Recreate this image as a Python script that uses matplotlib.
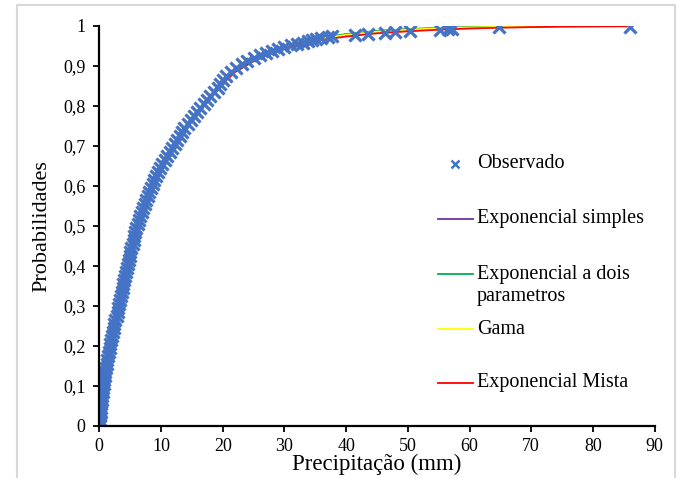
import matplotlib.pyplot as plt
from matplotlib.patches import Rectangle
from matplotlib.lines import Line2D

plt.rcParams['font.family'] = ['Liberation Serif', 'DejaVu Serif']

obs_precip = [0.05, 0.1, 0.15, 0.2, 0.28, 0.33, 0.4, 0.45, 0.55, 0.6,
              0.7, 0.78, 0.9, 1.0, 1.1, 1.2, 1.3, 1.45, 1.55, 1.7,
              1.8, 1.95, 2.05, 2.2, 2.35, 2.45, 2.6, 2.8, 2.95, 3.1,
              3.2, 3.35, 3.5, 3.6, 3.8, 3.9, 4.05, 4.2, 4.35, 4.5,
              4.6, 4.75, 4.9, 5.05, 5.2, 5.4, 5.55, 5.7, 5.85, 6.0,
              6.2, 6.4, 6.6, 6.85, 7.1, 7.35, 7.6, 7.85, 8.1, 8.4,
              8.65, 8.9, 9.2, 9.5, 9.8, 10.2, 10.6, 11.0, 11.4, 11.8,
              12.2, 12.6, 13.0, 13.4, 13.8, 14.3, 14.8, 15.3, 15.8, 16.4,
              16.9, 17.5, 18.0, 18.6, 19.2, 19.6, 20.1, 20.6, 21.3, 22.2,
              23.2, 24.0, 25.0, 26.0, 27.0, 28.0, 29.0, 30.0, 31.0, 32.0,
              33.0, 33.8, 34.5, 35.2, 36.0, 37.0, 37.7,
              41.4, 43.6, 46.3, 47.9, 50.4, 55.2, 56.5, 57.1, 64.8, 86.0]
obs_prob = [0.005, 0.015, 0.025, 0.035, 0.045, 0.055, 0.065, 0.075, 0.085, 0.095,
            0.105, 0.115, 0.125, 0.135, 0.145, 0.155, 0.165, 0.175, 0.185, 0.195,
            0.205, 0.215, 0.225, 0.235, 0.245, 0.255, 0.265, 0.275, 0.285, 0.295,
            0.305, 0.315, 0.325, 0.335, 0.345, 0.355, 0.365, 0.375, 0.385, 0.395,
            0.405, 0.415, 0.425, 0.435, 0.445, 0.455, 0.465, 0.475, 0.485, 0.495,
            0.505, 0.515, 0.525, 0.535, 0.545, 0.555, 0.565, 0.575, 0.585, 0.595,
            0.605, 0.615, 0.625, 0.635, 0.645, 0.655, 0.665, 0.675, 0.685, 0.695,
            0.705, 0.715, 0.725, 0.735, 0.745, 0.755, 0.765, 0.775, 0.785, 0.795,
            0.805, 0.815, 0.825, 0.835, 0.845, 0.855, 0.865, 0.875, 0.885, 0.895,
            0.905, 0.912, 0.92, 0.927, 0.933, 0.938, 0.943, 0.948, 0.952, 0.955,
            0.958, 0.961, 0.964, 0.966, 0.969, 0.972, 0.975,
            0.977, 0.979, 0.981, 0.984, 0.987, 0.990, 0.991, 0.992, 0.996, 0.998]

# fitted distributions
fit_x = [0, 1, 2, 3, 4, 5, 6, 8, 10, 12, 14, 16, 18, 20, 22, 25, 28, 31, 35,
         40, 45, 50, 55, 60, 65, 70, 75, 80, 86]
exp_simples = [0, 0.13, 0.215, 0.29, 0.36, 0.43, 0.49, 0.58, 0.65, 0.70, 0.748, 0.788,
               0.826, 0.86, 0.89, 0.917, 0.937, 0.952, 0.967, 0.978, 0.986, 0.991,
               0.994, 0.996, 0.9975, 0.9984, 0.999, 0.9993, 0.9996]
exp_dois = [0, 0.13, 0.215, 0.29, 0.36, 0.43, 0.49, 0.58, 0.65, 0.70, 0.748, 0.788,
            0.826, 0.86, 0.89, 0.918, 0.938, 0.953, 0.968, 0.979, 0.987, 0.9915,
            0.9945, 0.9965, 0.9978, 0.9986, 0.9991, 0.9994, 0.9997]
gama = [0, 0.13, 0.215, 0.29, 0.36, 0.43, 0.49, 0.58, 0.65, 0.70, 0.748, 0.788,
        0.826, 0.86, 0.889, 0.916, 0.936, 0.951, 0.966, 0.977, 0.985, 0.990,
        0.9935, 0.9957, 0.9972, 0.9981, 0.9987, 0.9991, 0.9995]
exp_mista = [0, 0.13, 0.215, 0.29, 0.36, 0.43, 0.488, 0.578, 0.648, 0.698, 0.745, 0.785,
             0.822, 0.855, 0.884, 0.911, 0.932, 0.948, 0.962, 0.973, 0.981, 0.986,
             0.990, 0.993, 0.995, 0.9965, 0.9975, 0.998, 0.9985]

x_ticks = [0, 10, 20, 30, 40, 50, 60, 70, 80, 90]
y_ticks = [0, 0.1, 0.2, 0.3, 0.4, 0.5, 0.6, 0.7, 0.8, 0.9, 1]
y_labels = ['0', '0,1', '0,2', '0,3', '0,4', '0,5', '0,6', '0,7', '0,8', '0,9', '1']

BLUE = '#4472C4'
line_colors = ['#7030A0', '#00B050', '#FFFF00', '#FF0000']
line_names = ['Exponencial simples', 'Exponencial a dois\nparametros', 'Gama', 'Exponencial Mista']

W, H = 688, 478
fig = plt.figure(figsize=(W / 100, H / 100), dpi=100)
ax = fig.add_axes([99.3 / W, 1 - 425.7 / H, 555.3 / W, 400 / H])

for ys, c in zip([exp_simples, exp_dois, gama, exp_mista], line_colors):
    ax.plot(fit_x, ys, color=c, lw=1.3, zorder=1)
ax.scatter(obs_precip, obs_prob, marker='x', s=75, linewidths=2.3,
           color=BLUE, zorder=2)

ax.set_xlim(0, 90)
ax.set_ylim(0, 1)
ax.set_xticks(x_ticks)
ax.set_yticks(y_ticks)
ax.set_yticklabels(y_labels)
ax.tick_params(labelsize=13, direction='out', length=4, width=1.3)
ax.tick_params(axis='x', pad=5)
ax.tick_params(axis='y', pad=6)
for s in ['top', 'right']:
    ax.spines[s].set_visible(False)
for s in ['left', 'bottom']:
    ax.spines[s].set_linewidth(1.6)
ax.set_xlabel('Precipitação (mm)', fontsize=16.5, labelpad=-1)
ax.set_ylabel('Probabilidades', fontsize=16, labelpad=8)


# legend laid out like the Excel original (figure pixel positions, y from top)
def fpos(x, y):
    return x / W, 1 - y / H


fig.add_artist(Line2D([fpos(455, 164)[0]], [fpos(455, 164)[1]], marker='x',
                      markersize=6, markeredgewidth=1.8, color=BLUE,
                      transform=fig.transFigure))
fig.text(*fpos(477, 164), 'Observado', fontsize=14.5, va='center')
leg_y = [219, 274, 329, 383]
for c, name, y in zip(line_colors, line_names, leg_y):
    x0, y0 = fpos(438, y)
    x1, _ = fpos(473, y)
    fig.add_artist(Line2D([x0, x1], [y0, y0], color=c, lw=1.3,
                          transform=fig.transFigure))
    parts = name.split('\n')
    for k, part in enumerate(parts):
        fig.text(*fpos(477, y + 22 * k), part, fontsize=14.5, va='center')

fig.add_artist(Rectangle((17 / W, -0.1), 658 / W, 1.1 - 5 / H,
                         transform=fig.transFigure, fill=False,
                         edgecolor='#D9D9D9', lw=1.5))

fig.savefig('out.png', dpi=100)
